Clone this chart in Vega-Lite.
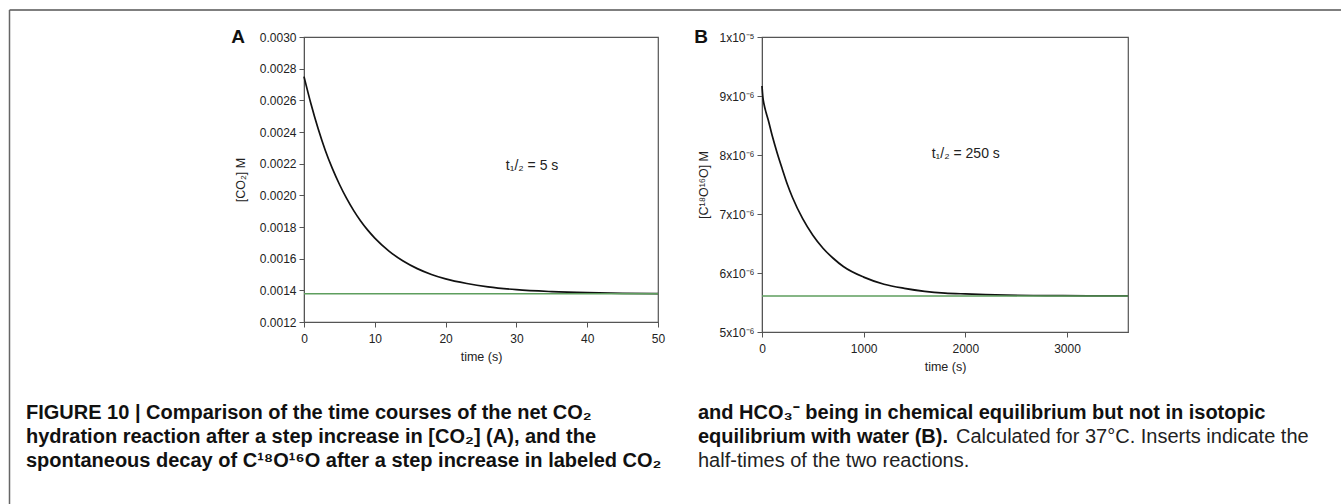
{
  "$schema": "https://vega.github.io/schema/vega-lite/v6.json",
  "background": "white",
  "padding": {"left": 8, "top": 9, "right": 0, "bottom": 0},
  "autosize": {"type": "pad"},
  "bounds": "flush",
  "spacing": 10,
  "config": {
    "view": {"stroke": "#555555", "strokeWidth": 1.2},
    "axis": {
      "labelFont": "Liberation Sans", "labelFontSize": 12, "labelColor": "#222222",
      "titleFont": "Liberation Sans", "titleFontSize": 12.5, "titleFontWeight": "normal", "titleColor": "#222222",
      "domainColor": "#555555", "tickColor": "#555555", "tickSize": 5, "grid": false,
      "labelPadding": 3, "labelFlush": false, "labelOverlap": false
    },
    "axisX": {"labelPadding": 6},
    "text": {"font": "Liberation Sans"}
  },
  "vconcat": [
    {
      "bounds": "flush",
      "spacing": 104,
      "hconcat": [
        {
          "width": 354,
          "height": 285,
          "layer": [
            {
              "data": {"values": [
                {"t": 0, "c": 0.00275}, {"t": 1, "c": 0.002575}, {"t": 2, "c": 0.00242}, {"t": 3, "c": 0.002285},
                {"t": 4, "c": 0.00217}, {"t": 5, "c": 0.00207}, {"t": 6, "c": 0.001982}, {"t": 7, "c": 0.001905},
                {"t": 8, "c": 0.001838}, {"t": 9, "c": 0.00178}, {"t": 10, "c": 0.00173}, {"t": 12, "c": 0.001648},
                {"t": 14, "c": 0.001585}, {"t": 16, "c": 0.001537}, {"t": 18, "c": 0.0015}, {"t": 20, "c": 0.001472},
                {"t": 23, "c": 0.001443}, {"t": 26, "c": 0.001422}, {"t": 30, "c": 0.001404}, {"t": 35, "c": 0.001392},
                {"t": 40, "c": 0.001385}, {"t": 45, "c": 0.001381}, {"t": 50, "c": 0.001379}
              ]},
              "mark": {"type": "line", "color": "#111111", "strokeWidth": 1.7, "interpolate": "monotone"},
              "encoding": {
                "x": {"field": "t", "type": "quantitative", "title": "time (s)",
                      "scale": {"domain": [0, 50], "nice": false, "zero": false},
                      "axis": {"values": [0, 10, 20, 30, 40, 50], "tickCount": 20, "titlePadding": 6}},
                "y": {"field": "c", "type": "quantitative", "title": "[CO₂] M",
                      "scale": {"domain": [0.0012, 0.003], "nice": false, "zero": false},
                      "axis": {"values": [0.0012, 0.0014, 0.0016, 0.0018, 0.002, 0.0022, 0.0024, 0.0026, 0.0028, 0.003], "tickCount": 20, "format": ".4f", "titlePadding": 12}}
              }
            },
            {
              "data": {"values": [{"c": 0.001378}]},
              "mark": {"type": "rule", "color": "#5e9e5e", "strokeWidth": 1.4},
              "encoding": {"y": {"field": "c", "type": "quantitative"}}
            },
            {
              "data": {"values": [{"t": 28.5, "c": 0.002187, "label": "t₁/₂ = 5 s"}]},
              "mark": {"type": "text", "align": "left", "baseline": "middle", "fontSize": 14, "color": "#222222"},
              "encoding": {"x": {"field": "t", "type": "quantitative"}, "y": {"field": "c", "type": "quantitative"}, "text": {"field": "label"}}
            },
            {
              "data": {"values": [{"t": -9.3, "c": 0.003, "label": "A"}]},
              "mark": {"type": "text", "align": "center", "baseline": "middle", "fontSize": 19, "fontWeight": "bold", "color": "#111111"},
              "encoding": {"x": {"field": "t", "type": "quantitative"}, "y": {"field": "c", "type": "quantitative"}, "text": {"field": "label"}}
            }
          ]
        },
        {
          "width": 366,
          "height": 295,
          "layer": [
            {
              "data": {"values": [
                {"t": 0, "c": 9.17e-6}, {"t": 5, "c": 9.05e-6}, {"t": 10, "c": 8.96e-6}, {"t": 20, "c": 8.86e-6},
                {"t": 40, "c": 8.72e-6}, {"t": 60, "c": 8.6e-6}, {"t": 100, "c": 8.33e-6}, {"t": 150, "c": 8.03e-6},
                {"t": 200, "c": 7.76e-6}, {"t": 250, "c": 7.5e-6}, {"t": 300, "c": 7.28e-6}, {"t": 400, "c": 6.92e-6},
                {"t": 500, "c": 6.64e-6}, {"t": 600, "c": 6.42e-6}, {"t": 700, "c": 6.25e-6}, {"t": 800, "c": 6.11e-6},
                {"t": 1000, "c": 5.93e-6}, {"t": 1200, "c": 5.81e-6}, {"t": 1400, "c": 5.74e-6}, {"t": 1600, "c": 5.69e-6},
                {"t": 1800, "c": 5.66e-6}, {"t": 2000, "c": 5.645e-6}, {"t": 2400, "c": 5.625e-6}, {"t": 2800, "c": 5.617e-6},
                {"t": 3200, "c": 5.613e-6}, {"t": 3600, "c": 5.611e-6}
              ]},
              "mark": {"type": "line", "color": "#111111", "strokeWidth": 1.7, "interpolate": "monotone"},
              "encoding": {
                "x": {"field": "t", "type": "quantitative", "title": "time (s)",
                      "scale": {"domain": [0, 3600], "nice": false, "zero": false},
                      "axis": {"values": [0, 1000, 2000, 3000], "tickCount": 20, "format": "d", "titlePadding": 6}},
                "y": {"field": "c", "type": "quantitative", "title": "[C¹⁸O¹⁶O] M",
                      "scale": {"domain": [5e-6, 1e-5], "nice": false, "zero": false},
                      "axis": {"values": [5e-6, 6e-6, 7e-6, 8e-6, 9e-6, 1e-5], "tickCount": 20, "titlePadding": 9,
                               "labelExpr": "datum.value >= 9.99e-6 ? '1x10⁻⁵' : format(datum.value * 1e6, '.0f') + 'x10⁻⁶'"}}
              }
            },
            {
              "data": {"values": [{"c": 5.61e-6}]},
              "mark": {"type": "rule", "color": "#5e9e5e", "strokeWidth": 1.4},
              "encoding": {"y": {"field": "c", "type": "quantitative"}}
            },
            {
              "data": {"values": [{"t": 1669, "c": 8.02e-6, "label": "t₁/₂ = 250 s"}]},
              "mark": {"type": "text", "align": "left", "baseline": "middle", "fontSize": 14, "color": "#222222"},
              "encoding": {"x": {"field": "t", "type": "quantitative"}, "y": {"field": "c", "type": "quantitative"}, "text": {"field": "label"}}
            },
            {
              "data": {"values": [{"t": -600, "c": 1e-5, "label": "B"}]},
              "mark": {"type": "text", "align": "center", "baseline": "middle", "fontSize": 19, "fontWeight": "bold", "color": "#111111"},
              "encoding": {"x": {"field": "t", "type": "quantitative"}, "y": {"field": "c", "type": "quantitative"}, "text": {"field": "label"}}
            }
          ]
        }
      ]
    },
    {
      "width": 824,
      "height": 150,
      "view": {"stroke": null},
      "resolve": {"scale": {"x": "independent", "y": "independent"}},
      "layer": [
        {
          "data": {"values": [
            {"col": "L", "line": 1, "part": "heading", "text": "FIGURE 10 | Comparison of the time courses of the net CO₂"},
            {"col": "L", "line": 2, "part": "heading", "text": "hydration reaction after a step increase in [CO₂] (A), and the"},
            {"col": "L", "line": 3, "part": "heading", "text": "spontaneous decay of C¹⁸O¹⁶O after a step increase in labeled CO₂"},
            {"col": "R", "line": 1, "part": "heading", "text": "and HCO₃⁻ being in chemical equilibrium but not in isotopic"},
            {"col": "R", "line": 2, "part": "heading", "text": "equilibrium with water (B)."},
            {"col": "R", "line": 2, "part": "body-cont", "text": "Calculated for 37°C. Inserts indicate the"},
            {"col": "R", "line": 3, "part": "body", "text": "half-times of the two reactions."}
          ]},
          "encoding": {
            "x": {"field": "col", "type": "ordinal", "axis": null,
                  "scale": {"type": "point", "domain": ["L", "R"], "range": [-278, 394], "padding": 0}},
            "y": {"field": "line", "type": "ordinal", "axis": null,
                  "scale": {"type": "point", "domain": [1, 2, 3], "range": [372, 420], "padding": 0}},
            "text": {"field": "text"}
          },
          "layer": [
            {
              "transform": [{"filter": "datum.part == 'heading'"}],
              "mark": {"type": "text", "align": "left", "baseline": "alphabetic", "font": "Liberation Sans", "fontSize": 20, "fontWeight": "bold", "color": "#111111"}
            },
            {
              "transform": [{"filter": "datum.part == 'body'"}],
              "mark": {"type": "text", "align": "left", "baseline": "alphabetic", "font": "Liberation Sans", "fontSize": 20, "fontWeight": "normal", "color": "#222222"}
            },
            {
              "transform": [{"filter": "datum.part == 'body-cont'"}],
              "mark": {"type": "text", "align": "left", "baseline": "alphabetic", "dx": 258, "font": "Liberation Sans", "fontSize": 20, "fontWeight": "normal", "color": "#222222"}
            }
          ]
        },
        {
          "data": {"values": [{}]},
          "layer": [
            {
              "mark": {"type": "rule", "color": "#555555", "strokeWidth": 1.6},
              "encoding": {
                "x": {"datum": -0.3574, "type": "quantitative", "axis": null, "scale": {"domain": [0, 1], "nice": false, "zero": false}},
                "x2": {"datum": 1.3},
                "y": {"datum": 1.2467, "type": "quantitative", "axis": null, "scale": {"domain": [0, 1], "nice": false, "zero": false}}
              }
            },
            {
              "mark": {"type": "rule", "color": "#666666", "strokeWidth": 1.5},
              "encoding": {
                "x": {"datum": -0.3574, "type": "quantitative", "axis": null, "scale": {"domain": [0, 1], "nice": false, "zero": false}},
                "y": {"datum": 1.2467, "type": "quantitative", "axis": null, "scale": {"domain": [0, 1], "nice": false, "zero": false}},
                "y2": {"datum": -2.2}
              }
            }
          ]
        }
      ]
    }
  ]
}
